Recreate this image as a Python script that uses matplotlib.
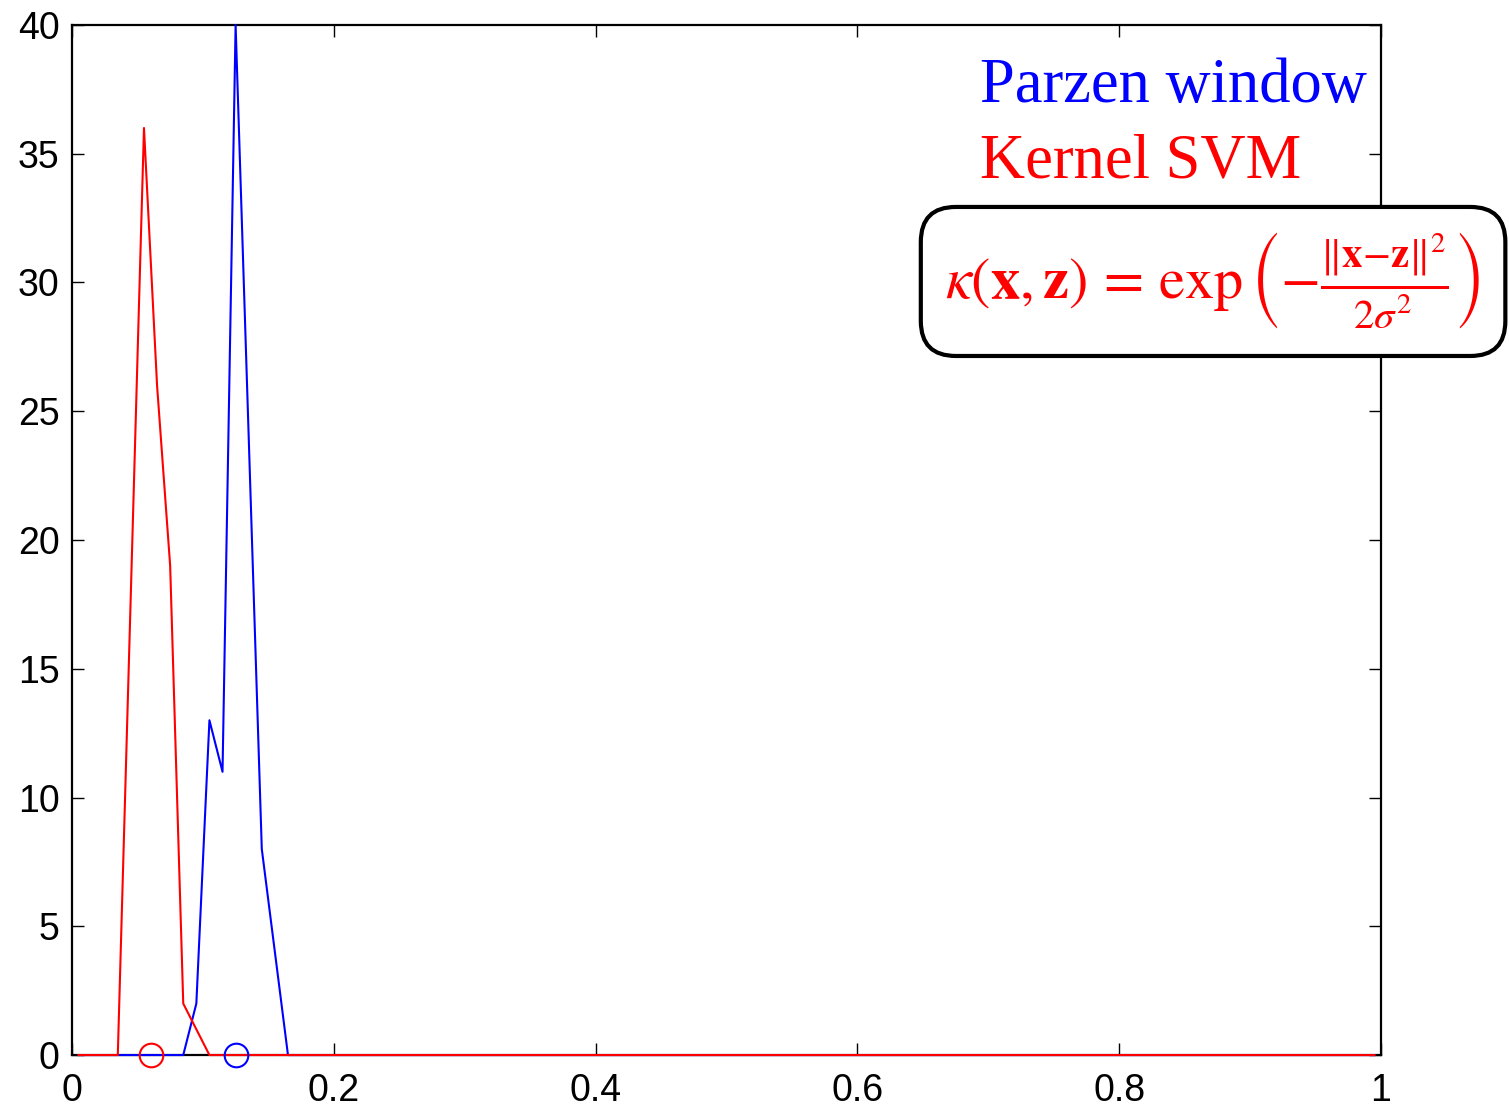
import matplotlib
matplotlib.use("Agg")
import matplotlib.pyplot as plt

# histogram outlines (bin centres, counts)
parzen_x = [0.005, 0.085, 0.095, 0.105, 0.115, 0.125, 0.135, 0.145, 0.155, 0.165, 0.995]
parzen_y = [0, 0, 2, 13, 11, 40, 24, 8, 4, 0, 0]
svm_x = [0.005, 0.035, 0.045, 0.055, 0.065, 0.075, 0.085, 0.095, 0.105, 0.995]
svm_y = [0, 0, 18, 36, 26, 19, 2, 1, 0, 0]

# circled points on the baseline
parzen_mark_x = [0.125]
svm_mark_x = [0.06]
mark_y = [0]

x_ticks = [0, 0.2, 0.4, 0.6, 0.8, 1]
x_ticklabels = ["0", "0.2", "0.4", "0.6", "0.8", "1"]
y_ticks = [0, 5, 10, 15, 20, 25, 30, 35, 40]

plt.rcParams["font.family"] = ["Liberation Sans", "DejaVu Sans"]
plt.rcParams["mathtext.fontset"] = "stix"

fig = plt.figure(figsize=(15.09, 11.1), dpi=100)
ax = fig.add_axes([0.0477, 0.0495, 0.8675, 0.928])

ax.plot(parzen_x, parzen_y, color="blue", linewidth=1.5, clip_on=False, zorder=3)
ax.plot(svm_x, svm_y, color="red", linewidth=1.5, clip_on=False, zorder=3)
ax.plot(svm_mark_x, mark_y, "o", mfc="none", mec="red", ms=17, mew=1.5, clip_on=False, zorder=4)
ax.plot(parzen_mark_x, mark_y, "o", mfc="none", mec="blue", ms=17, mew=1.5, clip_on=False, zorder=4)

ax.set_xlim(0, 1)
ax.set_ylim(0, 40)
ax.set_xticks(x_ticks)
ax.set_xticklabels(x_ticklabels)
ax.set_yticks(y_ticks)
ax.tick_params(direction="in", length=8.5, width=1.0, top=True, right=True,
               labelsize=27, pad=9)
ax.tick_params(axis="x", pad=13)
for s in ax.spines.values():
    s.set_linewidth(1.6)

ax.text(0.694, 0.925, "Parzen window", transform=ax.transAxes, color="blue",
        fontsize=45, family="Liberation Serif", ha="left", va="baseline")
ax.text(0.694, 0.852, "Kernel SVM", transform=ax.transAxes, color="red",
        fontsize=45, family="Liberation Serif", ha="left", va="baseline")

formula = (r"$\kappa(\mathbf{x},\mathbf{z})\,=\,\exp\left(-\frac{\|\mathbf{x}{-}\mathbf{z}\|^2}"
           r"{2\sigma^2}\right)$")
ax.text(0.8717, 0.751, formula, transform=ax.transAxes, color="red", fontsize=42,
        ha="center", va="center", zorder=5,
        bbox=dict(boxstyle="round,pad=0.42,rounding_size=0.6", facecolor="white",
                  edgecolor="black", linewidth=3))

fig.savefig("out.png", dpi=100, facecolor="white")
